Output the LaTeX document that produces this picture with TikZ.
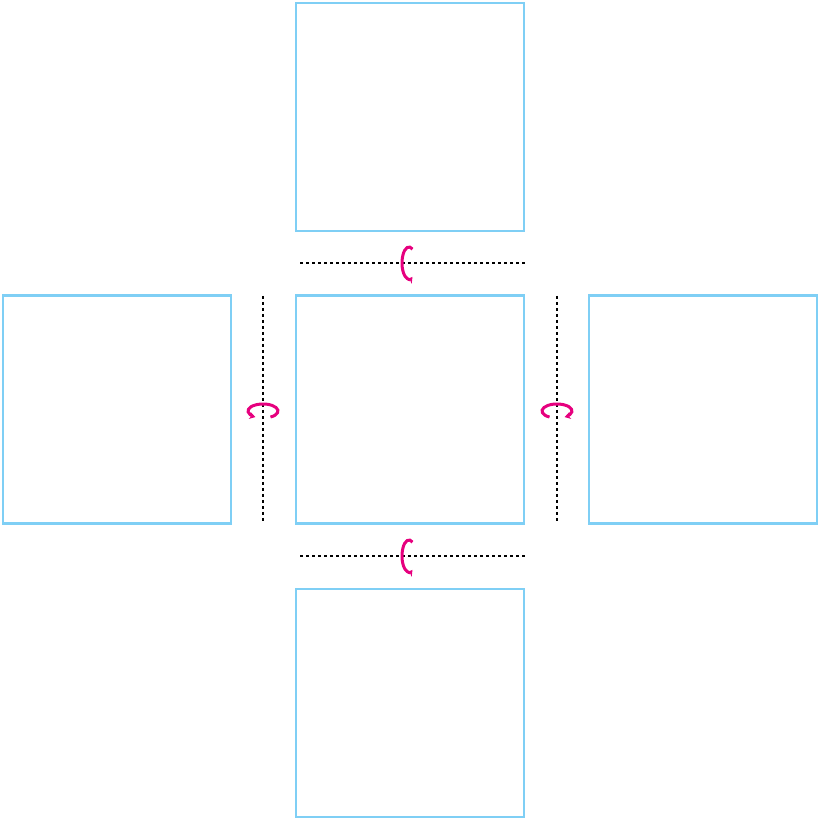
\documentclass[tikz,border=0pt]{standalone}
\usetikzlibrary{arrows.meta,calc}
\definecolor{boxblue}{HTML}{7FCFF5}
\definecolor{rotmag}{HTML}{E6007E}
\begin{document}
\begin{tikzpicture}[x=1pt,y=1pt,
  face/.style={draw=boxblue,line width=2.5pt,minimum width=228pt,minimum height=228pt,inner sep=0pt},
  axisline/.style={line width=2.6pt,dash pattern=on 3pt off 3pt},
  rot/.style={draw=rotmag,line width=3pt,-{Stealth[length=6pt,width=7pt]}}]
\useasboundingbox (0,0) rectangle (820,820);
\node[face] (top) at (410,703) {};
\node[face] (mid) at (410,410.5) {};
\node[face] (left) at (117,410.5) {};
\node[face] (right) at (703,410.5) {};
\node[face] (bot) at (410,117) {};
% axes
\coordinate (ta) at (300,557); \coordinate (tb) at (525,557);
\coordinate (ba) at (300,264); \coordinate (bb) at (525,264);
\coordinate (la) at (263,524); \coordinate (lb) at (263,298);
\coordinate (ra) at (557,524); \coordinate (rb) at (557,298);
\draw[axisline] (ta) -- (tb);
\draw[axisline] (ba) -- (bb);
\draw[axisline] (la) -- (lb);
\draw[axisline] (ra) -- (rb);
% rotation arrows
\coordinate (tc) at (409,557);
\coordinate (bc) at (409,264);
\coordinate (lc) at (263,409);
\coordinate (rc) at (557,409);
\draw[rot] ($(tc)+(60:7 and 16)$) arc[start angle=60,end angle=300,x radius=7,y radius=16];
\draw[rot] ($(bc)+(60:7 and 16)$) arc[start angle=60,end angle=300,x radius=7,y radius=16];
\draw[rot] ($(lc)+(-60:15 and 7)$) arc[start angle=-60,end angle=240,x radius=15,y radius=7];
\draw[rot] ($(rc)+(240:15 and 7)$) arc[start angle=240,end angle=-60,x radius=15,y radius=7];
\end{tikzpicture}
\end{document}
